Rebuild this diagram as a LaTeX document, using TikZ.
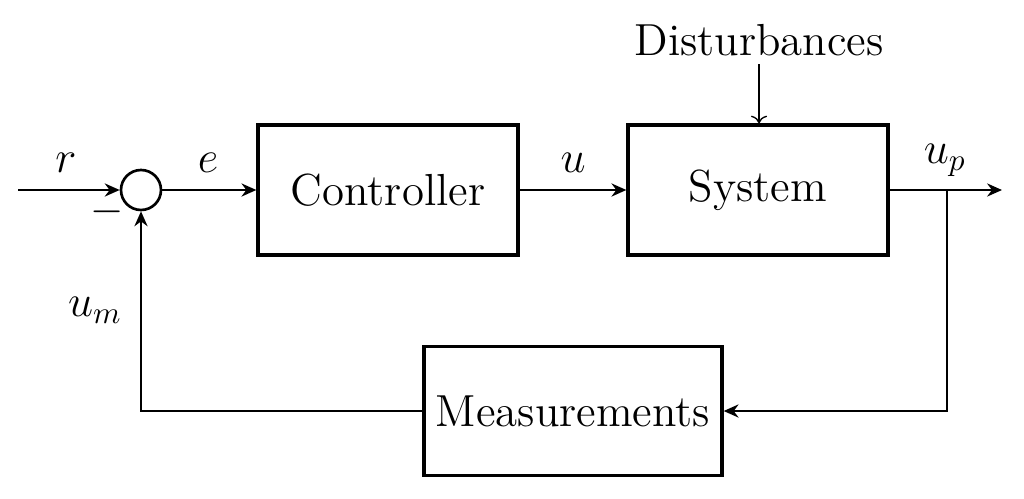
\documentclass[tikz,border=0pt]{standalone}
\usetikzlibrary{arrows.meta}
\newcommand{\bt}[1]{\scalebox{1.05}{#1}}
\begin{document}
\begin{tikzpicture}[x=0.3367pt,y=-0.3367pt,
  blockbox/.style={draw,line width=1.1pt,minimum width=260*0.3367pt,minimum height=130*0.3367pt,font=\Large,inner sep=0pt},
  sumnode/.style={draw,circle,line width=0.9pt,minimum size=40*0.3367pt,inner sep=0pt},
  sig/.style={line width=0.9pt,-{Stealth[length=5pt,width=4.4pt]}},
  lbl/.style={font=\Large,inner sep=0pt}]
\useasboundingbox (0,0) rectangle (1024,498);
\coordinate (in) at (18,190);
\node[sumnode] (sum) at (141,190) {};
\node[blockbox] (ctrl) at (388,190) {\bt{Controller}};
\node[blockbox] (sys) at (758,190) {\bt{System}};
\node[blockbox,minimum width=298*0.3367pt,minimum height=129*0.3367pt] (meas) at (573,411) {\bt{Measurements}};
\coordinate (out) at (1002,190);
\coordinate (branch) at (947,190);
\coordinate (corner1) at (947,411);
\coordinate (corner2) at (141,411);
\node[lbl] (dist) at (759,40) {\bt{Disturbances}};
\draw[sig] (in) -- (sum);
\draw[sig] (sum) -- (ctrl);
\draw[sig] (ctrl) -- (sys);
\draw[sig] (sys.east) -- (out);
\draw[sig] (branch) -- (corner1) -- (meas.east);
\draw[sig] (meas.west) -- (corner2) -- (sum.south);
\draw[line width=0.45pt,->] (dist.south) ++(0,8) coordinate (dtop) -- (sys.north -| dist);
\node[lbl] (lr) at (66,163) {\bt{$r$}};
\node[lbl] (le) at (208,163) {\bt{$e$}};
\node[lbl] (lu) at (573,163) {\bt{$u$}};
\node[lbl] (lup) at (945,160) {\bt{$u_p$}};
\node[lbl] (lum) at (95,310) {\bt{$u_m$}};
\node[lbl] (minus) at (107,212) {$-$};
\end{tikzpicture}
\end{document}
